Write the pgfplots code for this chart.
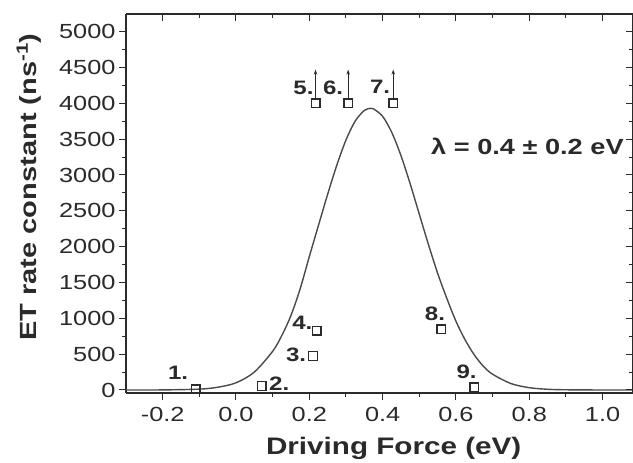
\documentclass[border=0pt]{standalone}
\usepackage{pgfplots}
\pgfplotsset{compat=1.18}
\usetikzlibrary{arrows.meta}
\usepackage{fontspec}
\setmainfont{Liberation Sans}[FakeStretch=1.24]
\definecolor{ink}{HTML}{2A2A2A}
\definecolor{curvec}{HTML}{4A4A4A}

\pgfplotsset{common/.style={
  scale only axis, width=507bp, height=379bp,
  xmin=-0.3, xmax=1.083, ymin=-42, ymax=5246,
  xtick={-0.2,0,0.2,0.4,0.6,0.8,1.0}, minor x tick num=1,
  ytick={0,500,1000,1500,2000,2500,3000,3500,4000,4500,5000}, minor y tick num=1,
  axis line style={ink, line width=1.1bp},
  every tick/.style={ink, line width=1bp},
  major tick length=7bp, minor tick length=4bp,
}}

\begin{document}
\begin{tikzpicture}
\begin{axis}[common, name=main,
  axis x line*=bottom, axis y line*=left, tick align=outside,
  clip=false,
  xticklabels={-0.2,0.0,0.2,0.4,0.6,0.8,1.0},
  yticklabels={0,500,1000,1500,2000,2500,3000,3500,4000,4500,5000},
  ticklabel style={font=\fontsize{20.5}{22}\selectfont, text=ink},
  xticklabel style={yshift=-4bp},
  xlabel={\textbf{Driving Force (eV)}},
  ylabel={\textbf{ET rate constant (ns\textsuperscript{-1})}},
  xlabel style={font=\fontsize{24}{26}\selectfont, text=ink, at={(axis description cs:0.528,-0.145)}, anchor=center},
  ylabel style={font=\fontsize{23.5}{26}\selectfont, text=ink, at={(axis description cs:-0.191,0.5435)}, anchor=center},
]
\addplot[curvec, line width=1.4bp, smooth, no marks] table {
-0.30 0
-0.20 1
-0.10 12
-0.05 38
0.00 100
0.05 250
0.10 540
0.125 760
0.15 1040
0.175 1410
0.20 1860
0.225 2297
0.25 2729
0.275 3136
0.30 3487
0.325 3750
0.35 3900
0.367 3930
0.375 3923
0.40 3818
0.425 3593
0.45 3271
0.475 2880
0.50 2454
0.525 2030
0.55 1630
0.575 1280
0.60 960
0.625 700
0.65 490
0.675 330
0.70 220
0.75 90
0.80 32
0.85 10
0.90 3
1.00 0
1.083 0
};
\addplot[only marks, mark=square, mark size=4.3bp, mark options={ink, line width=1.4bp, fill=white}] table {
-0.11 10
0.07 55
0.21 475
0.22 825
0.217 4000
0.306 4000
0.429 4000
0.56 845
0.65 40
};
\addplot[ink, line width=0.8bp, -{Stealth[length=5bp,width=3.5bp]},
  quiver={u=\thisrow{u}, v=\thisrow{v}}] table {
x y u v
0.217 4062 0 408
0.306 4062 0 408
0.429 4062 0 408
};
\begin{scope}[every node/.style={font=\bfseries\fontsize{19.5}{21}\selectfont, text=ink}]
\node at (axis cs:-0.158,237) {1.};
\node at (axis cs:0.118,84) {2.};
\node at (axis cs:0.164,488) {3.};
\node at (axis cs:0.181,935) {4.};
\node at (axis cs:0.184,4209) {5.};
\node at (axis cs:0.265,4223) {6.};
\node at (axis cs:0.393,4223) {7.};
\node at (axis cs:0.543,1060) {8.};
\node at (axis cs:0.629,255) {9.};
\end{scope}
\node[font=\bfseries\fontsize{22}{24}\selectfont, text=ink] at (axis cs:0.795,3395) {λ = 0.4 ± 0.2 eV};
\end{axis}
\begin{axis}[common,
  axis x line*=top, axis y line*=right, tick align=inside,
  xticklabels={}, yticklabels={}]
\end{axis}
\pgfresetboundingbox
\path[use as bounding box] ([shift={(-126bp,-70bp)}]main.south west) rectangle ([shift={(0bp,14bp)}]main.north east);
\end{tikzpicture}
\end{document}
